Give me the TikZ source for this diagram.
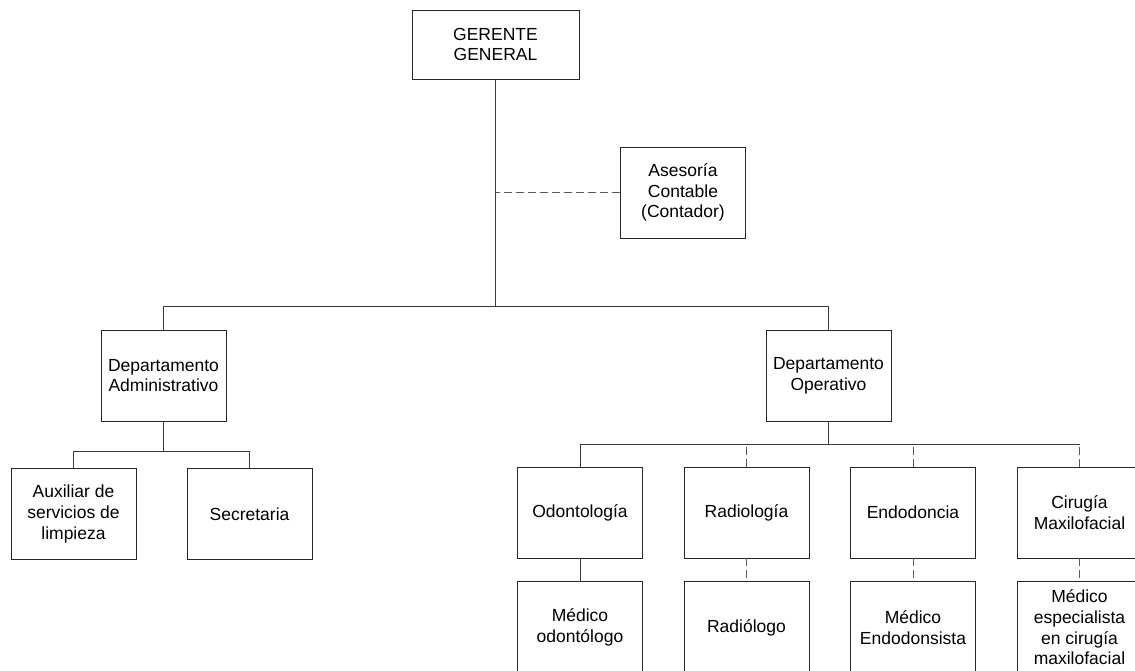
\documentclass[tikz,border=0pt]{standalone}
\usepackage{fontspec}
\setmainfont{Liberation Sans}
\usepackage{tikz}
\usetikzlibrary{
  positioning,
}
\definecolor{orgLine}{HTML}{3A3A3A}
\definecolor{staffLine}{HTML}{5A5A5A}
\tikzset{
  orgBox/.style={
    rectangle, draw=black!85, line width=0.9pt, fill=white,
    minimum width=125pt, minimum height=91pt, inner sep=2pt,
    align=center, font=\fontsize{17.5}{20.7}\selectfont,
  },
  linkMain/.style={
    line width=0.9pt, draw=orgLine,
  },
  linkStaff/.style={
    line width=0.9pt, draw=staffLine, dash pattern=on 8pt off 4pt,
  },
}
\begin{document}
\begin{tikzpicture}[x=1pt, y=-1pt, node distance=23pt]
\clip (0,0) rectangle (1135,670);
\node[orgBox, minimum width=167pt, minimum height=69pt] (ger) at (495.5,44.5) {GERENTE\\GENERAL};
\node[orgBox] (ase) at (683,192.5) {Asesoría\\Contable\\(Contador)};
\node[orgBox] (adm) at (163.5,375.5) {Departamento\\Administrativo};
\node[orgBox] (ope) at (828.5,375.5) {Departamento\\Operativo};
\node[orgBox] (aux) at (73.5,514) {Auxiliar de\\servicios de\\limpieza};
\node[orgBox] (sec) at (249.5,514) {Secretaria};
\node[orgBox] (odo) at (580,512.5) {Odontología};
\node[orgBox] (rad) at (746.5,512.5) {Radiología};
\node[orgBox] (end) at (913,512.5) {Endodoncia};
\node[orgBox] (cir) at (1079.5,512.5) {Cirugía\\Maxilofacial};
\node[orgBox, below=of odo] (medOdo) {Médico\\odontólogo};
\node[orgBox, below=of rad] (medRad) {Radiólogo};
\node[orgBox, below=of end] (medEnd) {Médico\\Endodonsista};
\node[orgBox, below=of cir] (medCir) {Médico\\especialista\\en cirugía\\maxilofacial};

\coordinate (topBus) at (0,306.5);
\coordinate (admBus) at (0,451.5);
\coordinate (opeBus) at (0,444);

\draw[linkMain] (ger.south) -- (ger.south |- topBus);
\draw[linkMain] (adm.north) |- (ope.north |- topBus) -- (ope.north);
\draw[linkStaff] (ase.west) -- (ase.west -| ger.south);

\draw[linkMain] (adm.south) -- (adm.south |- admBus);
\draw[linkMain] (aux.north) |- (sec.north |- admBus) -- (sec.north);

\draw[linkMain] (ope.south) -- (ope.south |- opeBus);
\draw[linkMain] (odo.north) |- (cir.north |- opeBus);
\draw[linkStaff] (rad.north) -- (rad.north |- opeBus);
\draw[linkStaff] (end.north) -- (end.north |- opeBus);
\draw[linkStaff] (cir.north) -- (cir.north |- opeBus);

\draw[linkMain] (odo.south) -- (medOdo.north);
\draw[linkStaff] (rad.south) -- (medRad.north);
\draw[linkStaff] (end.south) -- (medEnd.north);
\draw[linkStaff] (cir.south) -- (medCir.north);
\end{tikzpicture}
\end{document}
